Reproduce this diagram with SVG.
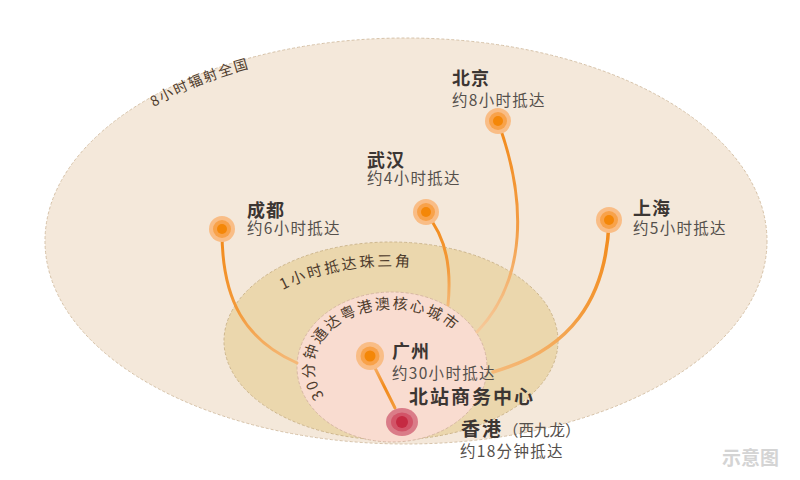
<svg xmlns="http://www.w3.org/2000/svg" width="800" height="480" viewBox="0 0 800 480">
<defs>
<style>
.ring{stroke-dasharray:3 2;stroke-width:1}
.rt{font-family:"Noto Sans CJK SC","Noto Sans",sans-serif;font-size:15px;fill:#4e3b2c}
.nm{font-family:"Noto Sans CJK SC","Noto Sans",sans-serif;font-size:18px;font-weight:700;fill:#3c3633;letter-spacing:1px}
.sb{font-family:"Noto Sans CJK SC","Noto Sans",sans-serif;font-size:15.5px;fill:#55504c;letter-spacing:1.3px}
.ln{fill:none;stroke-width:3;stroke-linecap:round}
.d1{fill:#F9BD86}.d2{fill:#F8A24A}.d3{fill:#F48708}
</style>
<linearGradient id="gOr" x1="0" y1="0" x2="0" y2="1">
<stop offset="0" stop-color="#F28A1A"/>
<stop offset="0.6" stop-color="#F39A3A"/>
<stop offset="1" stop-color="#F5B877"/>
</linearGradient>
<linearGradient id="gBj" x1="0" y1="0" x2="0" y2="1">
<stop offset="0" stop-color="#F28A1A"/>
<stop offset="0.5" stop-color="#F39D45"/>
<stop offset="1" stop-color="#F6C99A"/>
</linearGradient>
<linearGradient id="gGz" x1="0" y1="0" x2="0" y2="1">
<stop offset="0" stop-color="#F7B06A"/>
<stop offset="0.5" stop-color="#F28A1A"/>
<stop offset="1" stop-color="#F29A3A"/>
</linearGradient>
<path id="pOuter" d="M154,107 A350,194 0 0 1 658,107"/>
<path id="pMid" d="M283,290 A152,80 0 0 1 499,290"/>
<path id="pIn" d="M324.5,396 A78,58 0 1 1 459.5,396"/>
</defs>
<rect width="800" height="480" fill="#ffffff"/>

<g id="ring-8h">
<ellipse cx="406" cy="241" rx="361" ry="203" fill="#F4E8DA" stroke="#D6C2A8" class="ring"/>
<text class="rt" style="font-size:14px;letter-spacing:1.8px"><textPath href="#pOuter">8小时辐射全国</textPath></text>
</g>
<g id="ring-1h">
<ellipse cx="391" cy="341" rx="167" ry="99" fill="#EBD7AD" stroke="#CDB68C" class="ring"/>
<text class="rt" style="letter-spacing:2.4px"><textPath href="#pMid">1小时抵达珠三角</textPath></text>
</g>
<g id="ring-30m">
<ellipse cx="392" cy="367" rx="95" ry="75" fill="#F9DCD0" stroke="#D7B7A4" class="ring"/>
<text class="rt" style="letter-spacing:1.9px"><textPath href="#pIn">30分钟通达粤港澳核心城市</textPath></text>
</g>

<g id="connectors">
<path class="ln" stroke="url(#gOr)" d="M222,232 C222,300 245,340 297,363"/>
<path class="ln" stroke="url(#gOr)" d="M426,214 C445,235 452,265 448,305"/>
<path class="ln" stroke="url(#gBj)" d="M498,122 C527,200 527,280 477,332"/>
<path class="ln" stroke="url(#gOr)" style="stroke-width:3.5" d="M609,222 C606,300 570,350 493,372"/>
<path class="ln" stroke="url(#gGz)" d="M374,366 L395,408"/>
</g>

<g id="beijing">
<circle class="d1" cx="498" cy="121" r="13"/><circle class="d2" cx="498" cy="121" r="9"/><circle class="d3" cx="498" cy="121" r="5"/>
<text class="nm" x="452" y="85">北京</text>
<text class="sb" x="452" y="106">约8小时抵达</text>
</g>
<g id="wuhan">
<circle class="d1" cx="426" cy="212" r="13"/><circle class="d2" cx="426" cy="212" r="9"/><circle class="d3" cx="426" cy="212" r="5"/>
<text class="nm" x="367" y="167">武汉</text>
<text class="sb" x="367" y="184">约4小时抵达</text>
</g>
<g id="chengdu">
<circle class="d1" cx="222" cy="229" r="13"/><circle class="d2" cx="222" cy="229" r="9"/><circle class="d3" cx="222" cy="229" r="5"/>
<text class="nm" x="247" y="217">成都</text>
<text class="sb" x="247" y="234">约6小时抵达</text>
</g>
<g id="shanghai">
<circle class="d1" cx="609" cy="220" r="13"/><circle class="d2" cx="609" cy="220" r="9"/><circle class="d3" cx="609" cy="220" r="5"/>
<text class="nm" x="633" y="215">上海</text>
<text class="sb" x="633" y="234">约5小时抵达</text>
</g>
<g id="guangzhou">
<circle class="d1" cx="370" cy="356" r="14"/><circle class="d2" cx="370" cy="356" r="9.5"/><circle class="d3" cx="370" cy="356" r="5.5"/>
<text class="nm" x="392" y="358">广州</text>
<text class="sb" x="392" y="379">约30小时抵达</text>
<text class="nm" x="409" y="404" style="font-size:19px;letter-spacing:2px">北站商务中心</text>
</g>
<g id="hongkong">
<ellipse cx="402" cy="422" rx="16" ry="14" fill="#DA7C88"/>
<ellipse cx="402" cy="422" rx="11" ry="9.5" fill="#D25468"/>
<circle cx="402" cy="422" r="6" fill="#C52A42"/>
<text class="nm" x="461" y="436" style="font-size:19px;letter-spacing:2px">香港<tspan style="font-weight:400;font-size:15.5px;letter-spacing:0px;fill:#55504c">（西九龙）</tspan></text>
<text class="sb" x="460" y="457">约18分钟抵达</text>
</g>
<text x="722" y="465" style="font-family:'Noto Sans CJK SC','Noto Sans',sans-serif;font-size:19px;font-weight:700;fill:#D4D4D4">示意图</text>
</svg>
